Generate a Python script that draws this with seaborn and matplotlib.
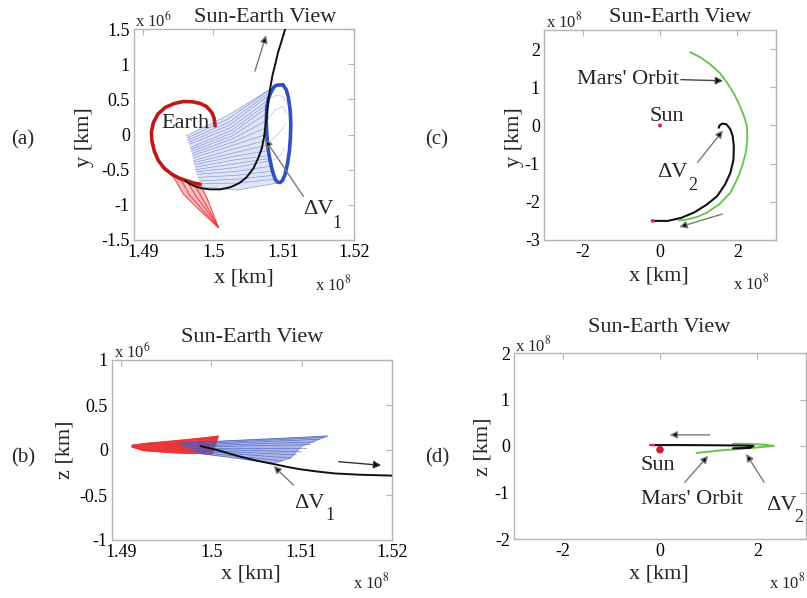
import numpy as np
import matplotlib
matplotlib.use("Agg")
import matplotlib.pyplot as plt
from matplotlib.patches import Polygon
import seaborn as sns

# ---------------- data (x in 1e8 km, y/z in 1e6 km for (a),(b); 1e8 km for (c),(d)) ----------------
# Panel (a): x-y view near Earth
a_red_loop_x = [1.50024, 1.50010, 1.49977, 1.49900, 1.49811, 1.49700, 1.49573, 1.49440, 1.49313, 1.49210, 1.49147, 1.49118, 1.49124, 1.49160, 1.49218, 1.49300, 1.49408, 1.49510, 1.49622, 1.49720, 1.49811]
a_red_loop_y = [0.123, 0.230, 0.313, 0.400, 0.441, 0.465, 0.469, 0.440, 0.384, 0.290, 0.171, 0.040, -0.090, -0.240, -0.374, -0.480, -0.565, -0.620, -0.659, -0.690, -0.707]
a_red_fan_left_x = [1.49408, 1.49573, 1.49811, 1.50071]
a_red_fan_left_y = [-0.565, -0.849, -1.084, -1.323]
a_red_fan_right_x = [1.49811, 1.49906, 1.50000, 1.50071]
a_red_fan_right_y = [-0.707, -0.896, -1.134, -1.323]
a_red_fan_mid1_x = [1.49520, 1.49660, 1.49870, 1.50071]
a_red_fan_mid1_y = [-0.610, -0.860, -1.100, -1.323]
a_red_fan_mid2_x = [1.49622, 1.49750, 1.49930, 1.50071]
a_red_fan_mid2_y = [-0.659, -0.875, -1.115, -1.323]
a_red_fan_mid3_x = [1.49720, 1.49830, 1.49965, 1.50071]
a_red_fan_mid3_y = [-0.690, -0.888, -1.125, -1.323]

a_blue_orbit_x = [1.50987, 1.51035, 1.51067, 1.51092, 1.51101, 1.51095, 1.51081, 1.51055, 1.51020, 1.50985, 1.50949, 1.50910, 1.50878, 1.50840, 1.50807, 1.50775, 1.50759, 1.50752, 1.50759, 1.50785, 1.50830, 1.50865, 1.50902, 1.50987]
a_blue_orbit_y = [0.707, 0.640, 0.526, 0.340, 0.147, -0.050, -0.232, -0.410, -0.565, -0.650, -0.683, -0.675, -0.636, -0.520, -0.374, -0.190, 0.004, 0.200, 0.384, 0.520, 0.622, 0.680, 0.701, 0.707]
# fan trajectories: start (left edge), middle, end (periodic orbit)
a_fan_start_x = [1.49612, 1.49625, 1.49635, 1.49645, 1.49655, 1.49669, 1.49678, 1.49685, 1.49693, 1.49700, 1.49708, 1.49716, 1.49723, 1.49730, 1.49738, 1.49745, 1.49755, 1.49764, 1.49780, 1.49800, 1.49818, 1.49835]
a_fan_start_y = [-0.019, -0.050, -0.080, -0.110, -0.140, -0.185, -0.210, -0.240, -0.270, -0.300, -0.335, -0.374, -0.400, -0.430, -0.465, -0.500, -0.530, -0.565, -0.610, -0.660, -0.700, -0.744]
a_fan_mid_x = [1.50200, 1.50215, 1.50230, 1.50240, 1.50250, 1.50260, 1.50265, 1.50270, 1.50275, 1.50280, 1.50285, 1.50290, 1.50295, 1.50300, 1.50305, 1.50310, 1.50315, 1.50320, 1.50325, 1.50330, 1.50340, 1.50350]
a_fan_mid_y = [0.270, 0.225, 0.180, 0.140, 0.100, 0.060, 0.020, -0.020, -0.060, -0.105, -0.150, -0.205, -0.260, -0.310, -0.360, -0.415, -0.470, -0.525, -0.580, -0.635, -0.690, -0.790]
a_fan_end_x = [1.50902, 1.50865, 1.50830, 1.50810, 1.50790, 1.50775, 1.50765, 1.50760, 1.50759, 1.50755, 1.50759, 1.50760, 1.50762, 1.50775, 1.50790, 1.50800, 1.50807, 1.50820, 1.50840, 1.50860, 1.50878, 1.50949]
a_fan_end_y = [0.701, 0.680, 0.622, 0.570, 0.500, 0.440, 0.384, 0.300, 0.200, 0.100, 0.004, -0.080, -0.150, -0.230, -0.300, -0.340, -0.374, -0.450, -0.520, -0.580, -0.636, -0.683]
# interior loops of the fan inside the orbit
a_in_x1 = [1.50759, 1.50880, 1.50990, 1.51040]
a_in_y1 = [0.200, 0.350, 0.400, 0.300]
a_in_x2 = [1.50762, 1.50860, 1.50960, 1.51020]
a_in_y2 = [-0.150, -0.050, 0.050, 0.150]
a_in_x3 = [1.50807, 1.50880, 1.50950, 1.51000]
a_in_y3 = [-0.374, -0.350, -0.300, -0.200]
a_in_x4 = [1.50790, 1.50900, 1.50990, 1.51050]
a_in_y4 = [0.500, 0.560, 0.540, 0.450]

a_traj_x = [1.4960, 1.4966, 1.4972, 1.4983, 1.4995, 1.5010, 1.5024, 1.5037, 1.5047, 1.5057, 1.5064, 1.5069, 1.5072, 1.5074, 1.5076, 1.5078, 1.5081, 1.5084, 1.5088, 1.5092, 1.5097, 1.5103]
a_traj_y = [-0.66, -0.70, -0.73, -0.765, -0.78, -0.78, -0.75, -0.69, -0.61, -0.48, -0.33, -0.19, -0.04, 0.12, 0.29, 0.48, 0.67, 0.84, 1.00, 1.17, 1.33, 1.53]

# Panel (b): x-z view near Earth
b_red_poly_x = [1.4912, 1.4930, 1.4960, 1.4990, 1.5008, 1.5001, 1.4960, 1.4925, 1.4912]
b_red_poly_y = [0.056, 0.078, 0.105, 0.135, 0.156, -0.045, -0.035, -0.010, 0.030]
b_blue_poly_x = [1.4962, 1.5000, 1.5050, 1.5100, 1.5129, 1.5100, 1.5088, 1.5069, 1.5030, 1.4988]
b_blue_poly_y = [0.074, 0.095, 0.118, 0.140, 0.156, 0.040, -0.090, -0.150, -0.090, -0.040]
b_fan_start_x = [1.4962, 1.4966, 1.4970, 1.4973, 1.4975, 1.4978, 1.4980, 1.4982, 1.4984, 1.4986, 1.4988]
b_fan_start_y = [0.074, 0.062, 0.050, 0.040, 0.030, 0.020, 0.010, 0.000, -0.010, -0.025, -0.040]
b_fan_end_x = [1.5129, 1.5125, 1.5120, 1.5115, 1.5110, 1.5105, 1.5100, 1.5094, 1.5088, 1.5078, 1.5069]
b_fan_end_y = [0.156, 0.140, 0.120, 0.090, 0.060, 0.020, -0.020, -0.055, -0.090, -0.120, -0.150]
b_traj_x = [1.4988, 1.5000, 1.5010, 1.5020, 1.5032, 1.5050, 1.5069, 1.5084, 1.5099, 1.5118, 1.5136, 1.5165, 1.5201]
b_traj_y = [0.044, 0.015, -0.010, -0.040, -0.074, -0.118, -0.156, -0.188, -0.215, -0.240, -0.260, -0.275, -0.285]

# Panel (c): x-y heliocentric
c_mars_x = [0.78, 1.05, 1.30, 1.55, 1.74, 1.92, 2.05, 2.17, 2.25, 2.26, 2.22, 2.13, 2.00, 1.82, 1.55, 1.22, 0.95, 0.71, 0.50]
c_mars_y = [1.92, 1.78, 1.60, 1.37, 1.11, 0.82, 0.55, 0.25, -0.02, -0.35, -0.70, -1.05, -1.40, -1.76, -2.05, -2.28, -2.40, -2.46, -2.49]
c_traj_x = [-0.19, 0.20, 0.55, 0.88, 1.20, 1.48, 1.68, 1.82, 1.90, 1.91, 1.88, 1.82, 1.72, 1.61, 1.54, 1.52]
c_traj_y = [-2.50, -2.50, -2.42, -2.28, -2.08, -1.85, -1.55, -1.24, -0.90, -0.54, -0.28, -0.10, 0.03, 0.05, 0.00, -0.06]
c_sun = (0.0, 0.0)
c_start = (-0.19, -2.50)

# Panel (d): x-z heliocentric
d_mars_x = [0.75, 1.30, 1.90, 2.20, 2.34, 2.15, 1.80, 1.50]
d_mars_y = [-0.15, -0.09, -0.04, -0.01, 0.00, 0.03, 0.045, 0.05]
d_traj_x = [-0.20, 0.50, 1.20, 1.70, 1.92, 1.85, 1.50]
d_traj_y = [0.020, 0.020, 0.015, 0.010, 0.000, -0.040, -0.050]
d_sun = (0.0, -0.08)

# ---------------- style ----------------
sns.set_theme(style="white")
plt.rcParams["font.family"] = ["Liberation Serif", "DejaVu Serif"]
plt.rcParams["mathtext.fontset"] = "stix"

W, H = 807, 598
fig = plt.figure(figsize=(W / 100, H / 100), dpi=100)
fig.patch.set_facecolor("white")

def box(l, r, t, b):
    return [l / W, 1 - b / H, (r - l) / W, (b - t) / H]

def ftext(px, py, s, **kw):
    kw.setdefault("ha", "center")
    kw.setdefault("va", "center")
    fig.text(px / W, 1 - py / H, s, **kw)

ax_a = fig.add_axes(box(134, 354, 29, 240))
ax_b = fig.add_axes(box(112, 392, 360, 540))
ax_c = fig.add_axes(box(544, 776, 30, 240))
ax_d = fig.add_axes(box(514, 806, 353, 539))

def style(ax, xlim, ylim, xt, xl, yt, yl):
    ax.set_xlim(*xlim)
    ax.set_ylim(*ylim)
    ax.set_xticks(xt)
    ax.set_xticklabels(xl)
    ax.set_yticks(yt)
    ax.set_yticklabels(yl)
    for s in ax.spines.values():
        s.set_color("#b5b5b5")
        s.set_linewidth(1.0)
    ax.tick_params(direction="in", top=True, right=True, length=4, width=0.8,
                   color="#b5b5b5", labelsize=13, labelcolor="black", pad=3)
    ax.set_facecolor("white")

BLACK = "#111111"
GRAY = "#7a7a7a"

def line(ax, x, y, color, lw, alpha=1.0, z=2):
    sns.lineplot(x=x, y=y, sort=False, estimator=None, ax=ax, color=color,
                 linewidth=lw, alpha=alpha, zorder=z, legend=False)

def arrow(ax, x0, y0, x1, y1, shaft=GRAY, lw=1.0):
    ax.annotate("", xy=(x1, y1), xytext=(x0, y0),
                arrowprops=dict(arrowstyle="-|>", ec=shaft, fc="black", lw=lw,
                                mutation_scale=11, shrinkA=0, shrinkB=0), zorder=6)

# ---------- (a) ----------
ax = ax_a
red_poly = list(zip(a_red_fan_left_x, a_red_fan_left_y)) + list(zip(a_red_fan_right_x, a_red_fan_right_y))[::-1]
ax.add_patch(Polygon(red_poly, closed=True, fc="#f07070", ec="none", alpha=0.45, zorder=1))
for fx, fy in [(a_red_fan_left_x, a_red_fan_left_y), (a_red_fan_mid1_x, a_red_fan_mid1_y),
               (a_red_fan_mid2_x, a_red_fan_mid2_y), (a_red_fan_mid3_x, a_red_fan_mid3_y),
               (a_red_fan_right_x, a_red_fan_right_y)]:
    line(ax, fx, fy, "#e83030", 0.8, 0.8)
line(ax, a_red_loop_x, a_red_loop_y, "#c01818", 2.6)

fan_poly = (list(zip(a_fan_start_x, a_fan_start_y))[::-1]
            + list(zip(a_fan_mid_x, a_fan_mid_y))[:1]
            + list(zip(a_fan_end_x, a_fan_end_y))
            + list(zip(a_fan_mid_x, a_fan_mid_y))[-1:])
ax.add_patch(Polygon(fan_poly, closed=True, fc="#a8b6e8", ec="none", alpha=0.35, zorder=1))
for i in range(len(a_fan_start_x)):
    line(ax, [a_fan_start_x[i], a_fan_mid_x[i], a_fan_end_x[i]],
         [a_fan_start_y[i], a_fan_mid_y[i], a_fan_end_y[i]], "#5068c8", 0.5, 0.6)
for fx, fy in [(a_in_x1, a_in_y1), (a_in_x2, a_in_y2), (a_in_x3, a_in_y3), (a_in_x4, a_in_y4)]:
    line(ax, fx, fy, "#8a9ad8", 0.5, 0.6)
line(ax, a_blue_orbit_x, a_blue_orbit_y, "#3050c0", 2.6)
line(ax, a_traj_x, a_traj_y, BLACK, 1.4, z=4)
arrow(ax, 1.5059, 0.90, 1.5075, 1.41)
arrow(ax, 1.5128, -0.88, 1.50735, -0.07)
ax.text(1.4960, 0.16, "Earth", fontsize=16, ha="center", va="center", zorder=7)
style(ax, (1.4887, 1.52), (-1.5, 1.5), [1.49, 1.5, 1.51, 1.52], ["1.49", "1.5", "1.51", "1.52"],
      [-1.5, -1, -0.5, 0, 0.5, 1, 1.5], ["-1.5", "-1", "-0.5", "0", "0.5", "1", "1.5"])

# ---------- (b) ----------
ax = ax_b
ax.add_patch(Polygon(list(zip(b_red_poly_x, b_red_poly_y)), closed=True, fc="#e82222", ec="#e82222",
                     lw=0.6, alpha=0.9, zorder=1))
ax.add_patch(Polygon(list(zip(b_blue_poly_x, b_blue_poly_y)), closed=True, fc="#5a6fc8", ec="#3a55c0",
                     lw=0.6, alpha=0.5, zorder=2))
for i in range(len(b_fan_start_x)):
    line(ax, [b_fan_start_x[i], b_fan_end_x[i]], [b_fan_start_y[i], b_fan_end_y[i]], "#3a55c0", 0.5, 0.7)
line(ax, b_traj_x, b_traj_y, BLACK, 1.4, z=4)
arrow(ax, 1.5141, -0.13, 1.5188, -0.17, shaft="#333333")
arrow(ax, 1.5091, -0.39, 1.5069, -0.178)
style(ax, (1.489, 1.52), (-1, 1), [1.49, 1.5, 1.51, 1.52], ["1.49", "1.5", "1.51", "1.52"],
      [-1, -0.5, 0, 0.5, 1], ["-1", "-0.5", "0", "0.5", "1"])

# ---------- (c) ----------
ax = ax_c
line(ax, c_mars_x, c_mars_y, "#66c24a", 1.3)
line(ax, c_traj_x, c_traj_y, BLACK, 1.5, z=4)
sns.scatterplot(x=[c_sun[0]], y=[c_sun[1]], ax=ax, color="#d02040", s=8, edgecolor="none", zorder=5, legend=False)
sns.scatterplot(x=[c_start[0]], y=[c_start[1]], ax=ax, color="#e03060", s=8, edgecolor="none", zorder=5, legend=False)
arrow(ax, 0.54, 1.20, 1.63, 1.17, shaft="#444444")
arrow(ax, 0.97, -0.97, 1.63, -0.13)
arrow(ax, 1.61, -2.32, 0.50, -2.66)
ax.text(-0.83, 1.20, "Mars' Orbit", fontsize=16, ha="center", va="center")
ax.text(0.17, 0.23, "Sun", fontsize=16, ha="center", va="center")
style(ax, (-3, 3), (-3, 2.5), [-2, 0, 2], ["-2", "0", "2"],
      [-3, -2, -1, 0, 1, 2], ["-3", "-2", "-1", "0", "1", "2"])

# ---------- (d) ----------
ax = ax_d
line(ax, d_mars_x, d_mars_y, "#66c24a", 1.4)
line(ax, d_traj_x, d_traj_y, BLACK, 1.5, z=4)
line(ax, [d_traj_x[0], d_traj_x[0] + 0.08], [d_traj_y[0], d_traj_y[0]], "#e03040", 1.6, z=5)
sns.scatterplot(x=[d_sun[0]], y=[d_sun[1]], ax=ax, color="#d02030", s=30, edgecolor="none", zorder=5, legend=False)
arrow(ax, 1.02, 0.24, 0.20, 0.24)
arrow(ax, 0.51, -0.78, 0.99, -0.21)
arrow(ax, 2.14, -0.78, 1.77, -0.17)
style(ax, (-3, 3), (-2, 2), [-2, 0, 2], ["-2", "0", "2"],
      [-2, -1, 0, 1, 2], ["-2", "-1", "0", "1", "2"])

# ---------- figure-level texts ----------
ftext(265, 17, "Sun-Earth View", fontsize=16)
ftext(680, 17, "Sun-Earth View", fontsize=16)
ftext(252, 337, "Sun-Earth View", fontsize=16)
ftext(659, 328, "Sun-Earth View", fontsize=16)

ftext(244, 278, "x [km]", fontsize=16)
ftext(251, 574, "x [km]", fontsize=16)
ftext(659, 276, "x [km]", fontsize=16)
ftext(659, 574, "x [km]", fontsize=16)

ftext(84, 137, "y [km]", fontsize=16, rotation=90)
ftext(65, 450, "z [km]", fontsize=16, rotation=90)
ftext(514, 137, "y [km]", fontsize=16, rotation=90)
ftext(483, 447, "z [km]", fontsize=16, rotation=90)

ftext(23, 140, "(a)", fontsize=15)
ftext(23, 458, "(b)", fontsize=15)
ftext(437, 140, "(c)", fontsize=15)
ftext(437, 458, "(d)", fontsize=15)

ftext(135, 21, r"x 10$^6$", fontsize=12, ha="left")
ftext(114, 352, r"x 10$^6$", fontsize=12, ha="left")
ftext(546, 21, r"x 10$^8$", fontsize=12, ha="left")
ftext(515, 345, r"x 10$^8$", fontsize=12, ha="left")
ftext(333, 284, r"x 10$^8$", fontsize=12)
ftext(371, 582, r"x 10$^8$", fontsize=12)
ftext(751, 283, r"x 10$^8$", fontsize=12)
ftext(805, 582, r"x 10$^8$", fontsize=12, ha="right")

# Delta-V labels
ftext(318, 209, "ΔV", fontsize=16)
ftext(337, 223, "1", fontsize=13)
ftext(309, 503, "ΔV", fontsize=16)
ftext(330, 516, "1", fontsize=13)
ftext(672, 173, "ΔV", fontsize=16)
ftext(693, 185, "2", fontsize=13)
ftext(781, 506, "ΔV", fontsize=16)
ftext(799, 517, "2", fontsize=13)
ftext(658, 465, "Sun", fontsize=16)
ftext(692, 500, "Mars' Orbit", fontsize=16)

fig.savefig("out.png", dpi=100, facecolor="white")
